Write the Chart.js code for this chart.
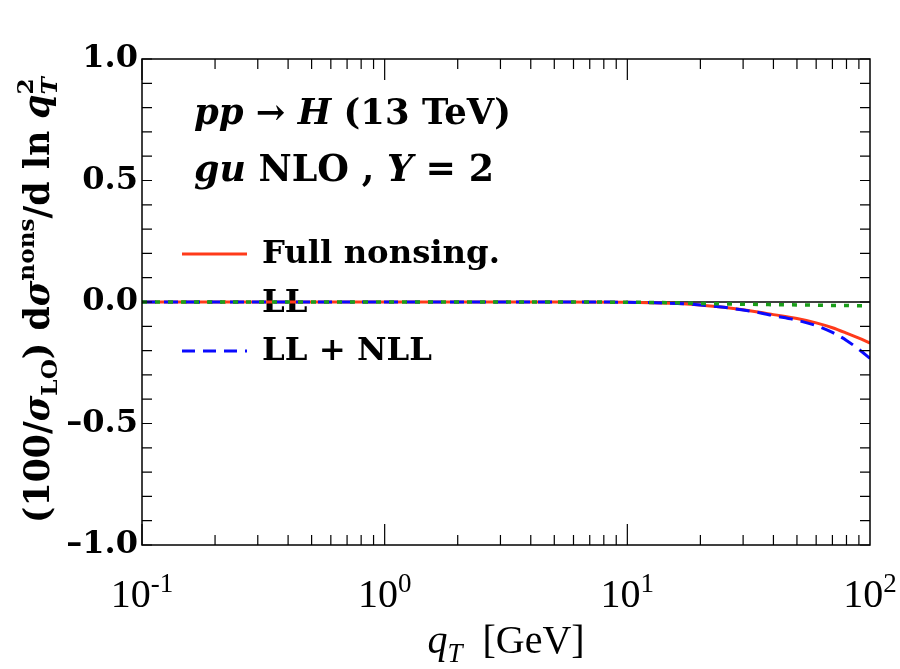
<!DOCTYPE html>
<html>
<head>
<meta charset="utf-8">
<script src="https://cdn.jsdelivr.net/npm/chart.js@4.4.1/dist/chart.umd.min.js"></script>
<style>
  html, body { margin: 0; padding: 0; background: #fff; }
  #wrap { width: 900px; height: 669px; }
</style>
</head>
<body>
<div id="wrap"><canvas id="myChart" width="900" height="669"></canvas></div>
<script>
// qT in GeV
const qT = [0.1, 0.2, 0.5, 1, 2, 5, 10, 15, 20, 25, 30, 35, 40, 50, 60, 70, 80, 90, 100];
// (100/sigma_LO) dsigma^nons / dln qT^2
const fullNonsing = [0, 0, 0, 0, 0, 0, -0.001, -0.005, -0.012, -0.022, -0.032, -0.042, -0.052, -0.068, -0.086, -0.106, -0.128, -0.149, -0.169];
const llOnly = [0, 0, 0, 0, 0, 0, -0.001, -0.003, -0.006, -0.008, -0.009, -0.010, -0.011, -0.012, -0.013, -0.014, -0.014, -0.015, -0.015];
const llNll = [0, 0, 0, 0, 0, 0, -0.001, -0.005, -0.012, -0.022, -0.033, -0.044, -0.056, -0.075, -0.097, -0.125, -0.158, -0.195, -0.232];
const yTicks = [-1.0, -0.5, 0.0, 0.5, 1.0];
const xDecades = [0.1, 1, 10, 100];
const xExp = ['-1', '0', '1', '2'];

const RED = '#ff3a1a';
const BLUE = '#0a0aff';
const GREEN = '#1a9e1a';
const SERIF = '"DejaVu Serif", serif';
const RSERIF = '"Liberation Serif", serif';

function pts(ys) {
    return qT.map((x, i) => ({ x: x, y: ys[i] }));
}

// draw a row of text pieces with different fonts, sub/superscripts
function runsWidth(ctx, runs, k) {
    let w = 0;
    for (const r of runs) {
        if (r.stack) {
            let m = 0;
            for (const s of r.stack) {
                ctx.font = s.f(k);
                m = Math.max(m, ctx.measureText(s.t).width);
            }
            w += m;
        } else {
            ctx.font = r.f(k);
            w += ctx.measureText(r.t).width;
        }
    }
    return w;
}
function drawRuns(ctx, x, y, runs, k) {
    for (const r of runs) {
        if (r.stack) {
            let m = 0;
            for (const s of r.stack) {
                ctx.font = s.f(k);
                ctx.fillText(s.t, x, y - (s.dy || 0) * k);
                m = Math.max(m, ctx.measureText(s.t).width);
            }
            x += m;
        } else {
            ctx.font = r.f(k);
            ctx.fillText(r.t, x, y - (r.dy || 0) * k);
            x += ctx.measureText(r.t).width;
        }
    }
}
function fitScale(ctx, runs, target) {
    return target / runsWidth(ctx, runs, 1);
}

const B = (s) => (k) => 'bold ' + (s * k).toFixed(2) + 'px ' + SERIF;
const BI = (s) => (k) => 'italic bold ' + (s * k).toFixed(2) + 'px ' + SERIF;
const R = (s) => (k) => (s * k).toFixed(2) + 'px ' + RSERIF;
const RI = (s) => (k) => 'italic ' + (s * k).toFixed(2) + 'px ' + RSERIF;

const line1 = [
    { t: 'pp', f: BI(26) }, { t: ' \u2192 ', f: B(26) }, { t: 'H', f: BI(26) }, { t: ' (13 TeV)', f: B(26) }
];
const line2 = [
    { t: 'gu', f: BI(26) }, { t: ' NLO , ', f: B(26) }, { t: 'Y', f: BI(26) }, { t: ' = 2', f: B(26) }
];
const yTitle = [
    { t: '(100/', f: B(30) }, { t: '\u03c3', f: BI(30) }, { t: 'LO', f: B(20), dy: -7 },
    { t: ') d', f: B(30) }, { t: '\u03c3', f: BI(30) }, { t: 'nons', f: B(20), dy: 13 },
    { t: '/d ln ', f: B(30) }, { t: 'q', f: BI(30) },
    { stack: [{ t: '2', f: B(20), dy: 14 }, { t: 'T', f: BI(20), dy: -7 }] }
];
const xTitle = [
    { t: 'q', f: RI(40) }, { t: 'T', f: RI(27), dy: -9 }, { t: '  [GeV]', f: R(40) }
];
const legendItems = [
    { text: 'Full nonsing.', color: RED, dash: [], y: 254, base: 263, w: 238 },
    { text: 'LL', color: GREEN, dash: [5, 8], y: 302, base: 312, w: 0 },
    { text: 'LL + NLL', color: BLUE, dash: [13, 8], y: 351, base: 360, w: 181 }
];

const frame = {
    id: 'frame',
    beforeDatasetsDraw(chart) {
        const ctx = chart.ctx;
        const ys = chart.scales.y;
        ctx.save();
        // legend (drawn under the curves)
        ctx.fillStyle = '#000';
        ctx.textBaseline = 'alphabetic';
        const kL = fitScale(ctx, [{ t: legendItems[0].text, f: B(26) }], legendItems[0].w);
        for (const it of legendItems) {
            ctx.strokeStyle = it.color;
            ctx.lineWidth = 3;
            ctx.setLineDash(it.dash);
            ctx.beginPath();
            ctx.moveTo(182, it.y);
            ctx.lineTo(247, it.y);
            ctx.stroke();
            ctx.setLineDash([]);
            drawRuns(ctx, 262, it.base, [{ t: it.text, f: B(26) }], kL);
        }
        // zero line
        ctx.strokeStyle = '#000';
        ctx.lineWidth = 1.5;
        const y0 = ys.getPixelForValue(0);
        ctx.beginPath();
        ctx.moveTo(chart.chartArea.left, y0);
        ctx.lineTo(chart.chartArea.right, y0);
        ctx.stroke();
        ctx.restore();
    },
    afterDraw(chart) {
        const ctx = chart.ctx;
        const a = chart.chartArea;
        const xs = chart.scales.x, ys = chart.scales.y;
        ctx.save();
        ctx.strokeStyle = '#000';
        ctx.lineWidth = 1.5;
        ctx.strokeRect(a.left, a.top, a.right - a.left, a.bottom - a.top);
        ctx.lineWidth = 1.2;
        ctx.beginPath();
        // y ticks every 0.1, both sides
        for (let i = -10; i <= 10; i++) {
            const p = ys.getPixelForValue(i / 10);
            ctx.moveTo(a.left, p); ctx.lineTo(a.left + 10, p);
            ctx.moveTo(a.right, p); ctx.lineTo(a.right - 10, p);
        }
        // x ticks, log
        for (let d = 0; d < 3; d++) {
            for (let m = 1; m <= 9; m++) {
                const v = xDecades[d] * m;
                const p = xs.getPixelForValue(v);
                const len = m === 1 ? 21 : 10;
                ctx.moveTo(p, a.bottom); ctx.lineTo(p, a.bottom - len);
                ctx.moveTo(p, a.top); ctx.lineTo(p, a.top + len);
            }
        }
        ctx.stroke();

        ctx.fillStyle = '#000';
        ctx.textBaseline = 'alphabetic';
        // x tick labels 10^n
        for (let i = 0; i < xDecades.length; i++) {
            const p = xs.getPixelForValue(xDecades[i]);
            const runs = [{ t: '10', f: R(40) }, { t: xExp[i], f: R(27), dy: 15 }];
            const w = runsWidth(ctx, runs, 1);
            drawRuns(ctx, p - w / 2, 607, runs, 1);
        }
        // x title
        const wx = runsWidth(ctx, xTitle, 1);
        drawRuns(ctx, (a.left + a.right) / 2 - wx / 2, 653, xTitle, 1);
        // y title, rotated
        const ky = fitScale(ctx, yTitle, 446);
        ctx.save();
        ctx.translate(49, 300);
        ctx.rotate(-Math.PI / 2);
        drawRuns(ctx, -223, 0, yTitle, ky);
        ctx.restore();
        // annotations
        drawRuns(ctx, 194, 124, line1, fitScale(ctx, line1, 317));
        drawRuns(ctx, 194, 181, line2, fitScale(ctx, line2, 300));
        ctx.restore();
    }
};

new Chart(document.getElementById('myChart'), {
    type: 'line',
    data: {
        datasets: [
            { label: 'Full nonsing.', data: pts(fullNonsing), borderColor: RED, borderWidth: 3, order: 3 },
            { label: 'LL', data: pts(llOnly), borderColor: GREEN, borderWidth: 3.5, borderDash: [5, 8], order: 1 },
            { label: 'LL + NLL', data: pts(llNll), borderColor: BLUE, borderWidth: 3, borderDash: [14, 8], order: 2 }
        ]
    },
    options: {
        responsive: false,
        animation: false,
        devicePixelRatio: 1,
        layout: { padding: { top: 59, right: 30, left: 0, bottom: 0 } },
        elements: { point: { radius: 0 }, line: { cubicInterpolationMode: 'monotone', fill: false } },
        plugins: { legend: { display: false }, tooltip: { enabled: false } },
        scales: {
            x: {
                type: 'logarithmic', min: 0.1, max: 100,
                grid: { display: false }, border: { display: false },
                ticks: { display: false },
                afterFit(s) { s.height = 124; }
            },
            y: {
                min: -1, max: 1,
                afterBuildTicks(s) { s.ticks = yTicks.map(v => ({ value: v })); },
                grid: { display: false }, border: { display: false },
                ticks: {
                    padding: -4, color: '#000',
                    font: { family: 'DejaVu Serif', weight: 'bold', size: 32 },
                    callback: (v) => Number(v).toFixed(1).replace('-', '\u2013')
                },
                afterFit(s) { s.width = 142; }
            }
        }
    },
    plugins: [frame]
});
</script>
</body>
</html>
